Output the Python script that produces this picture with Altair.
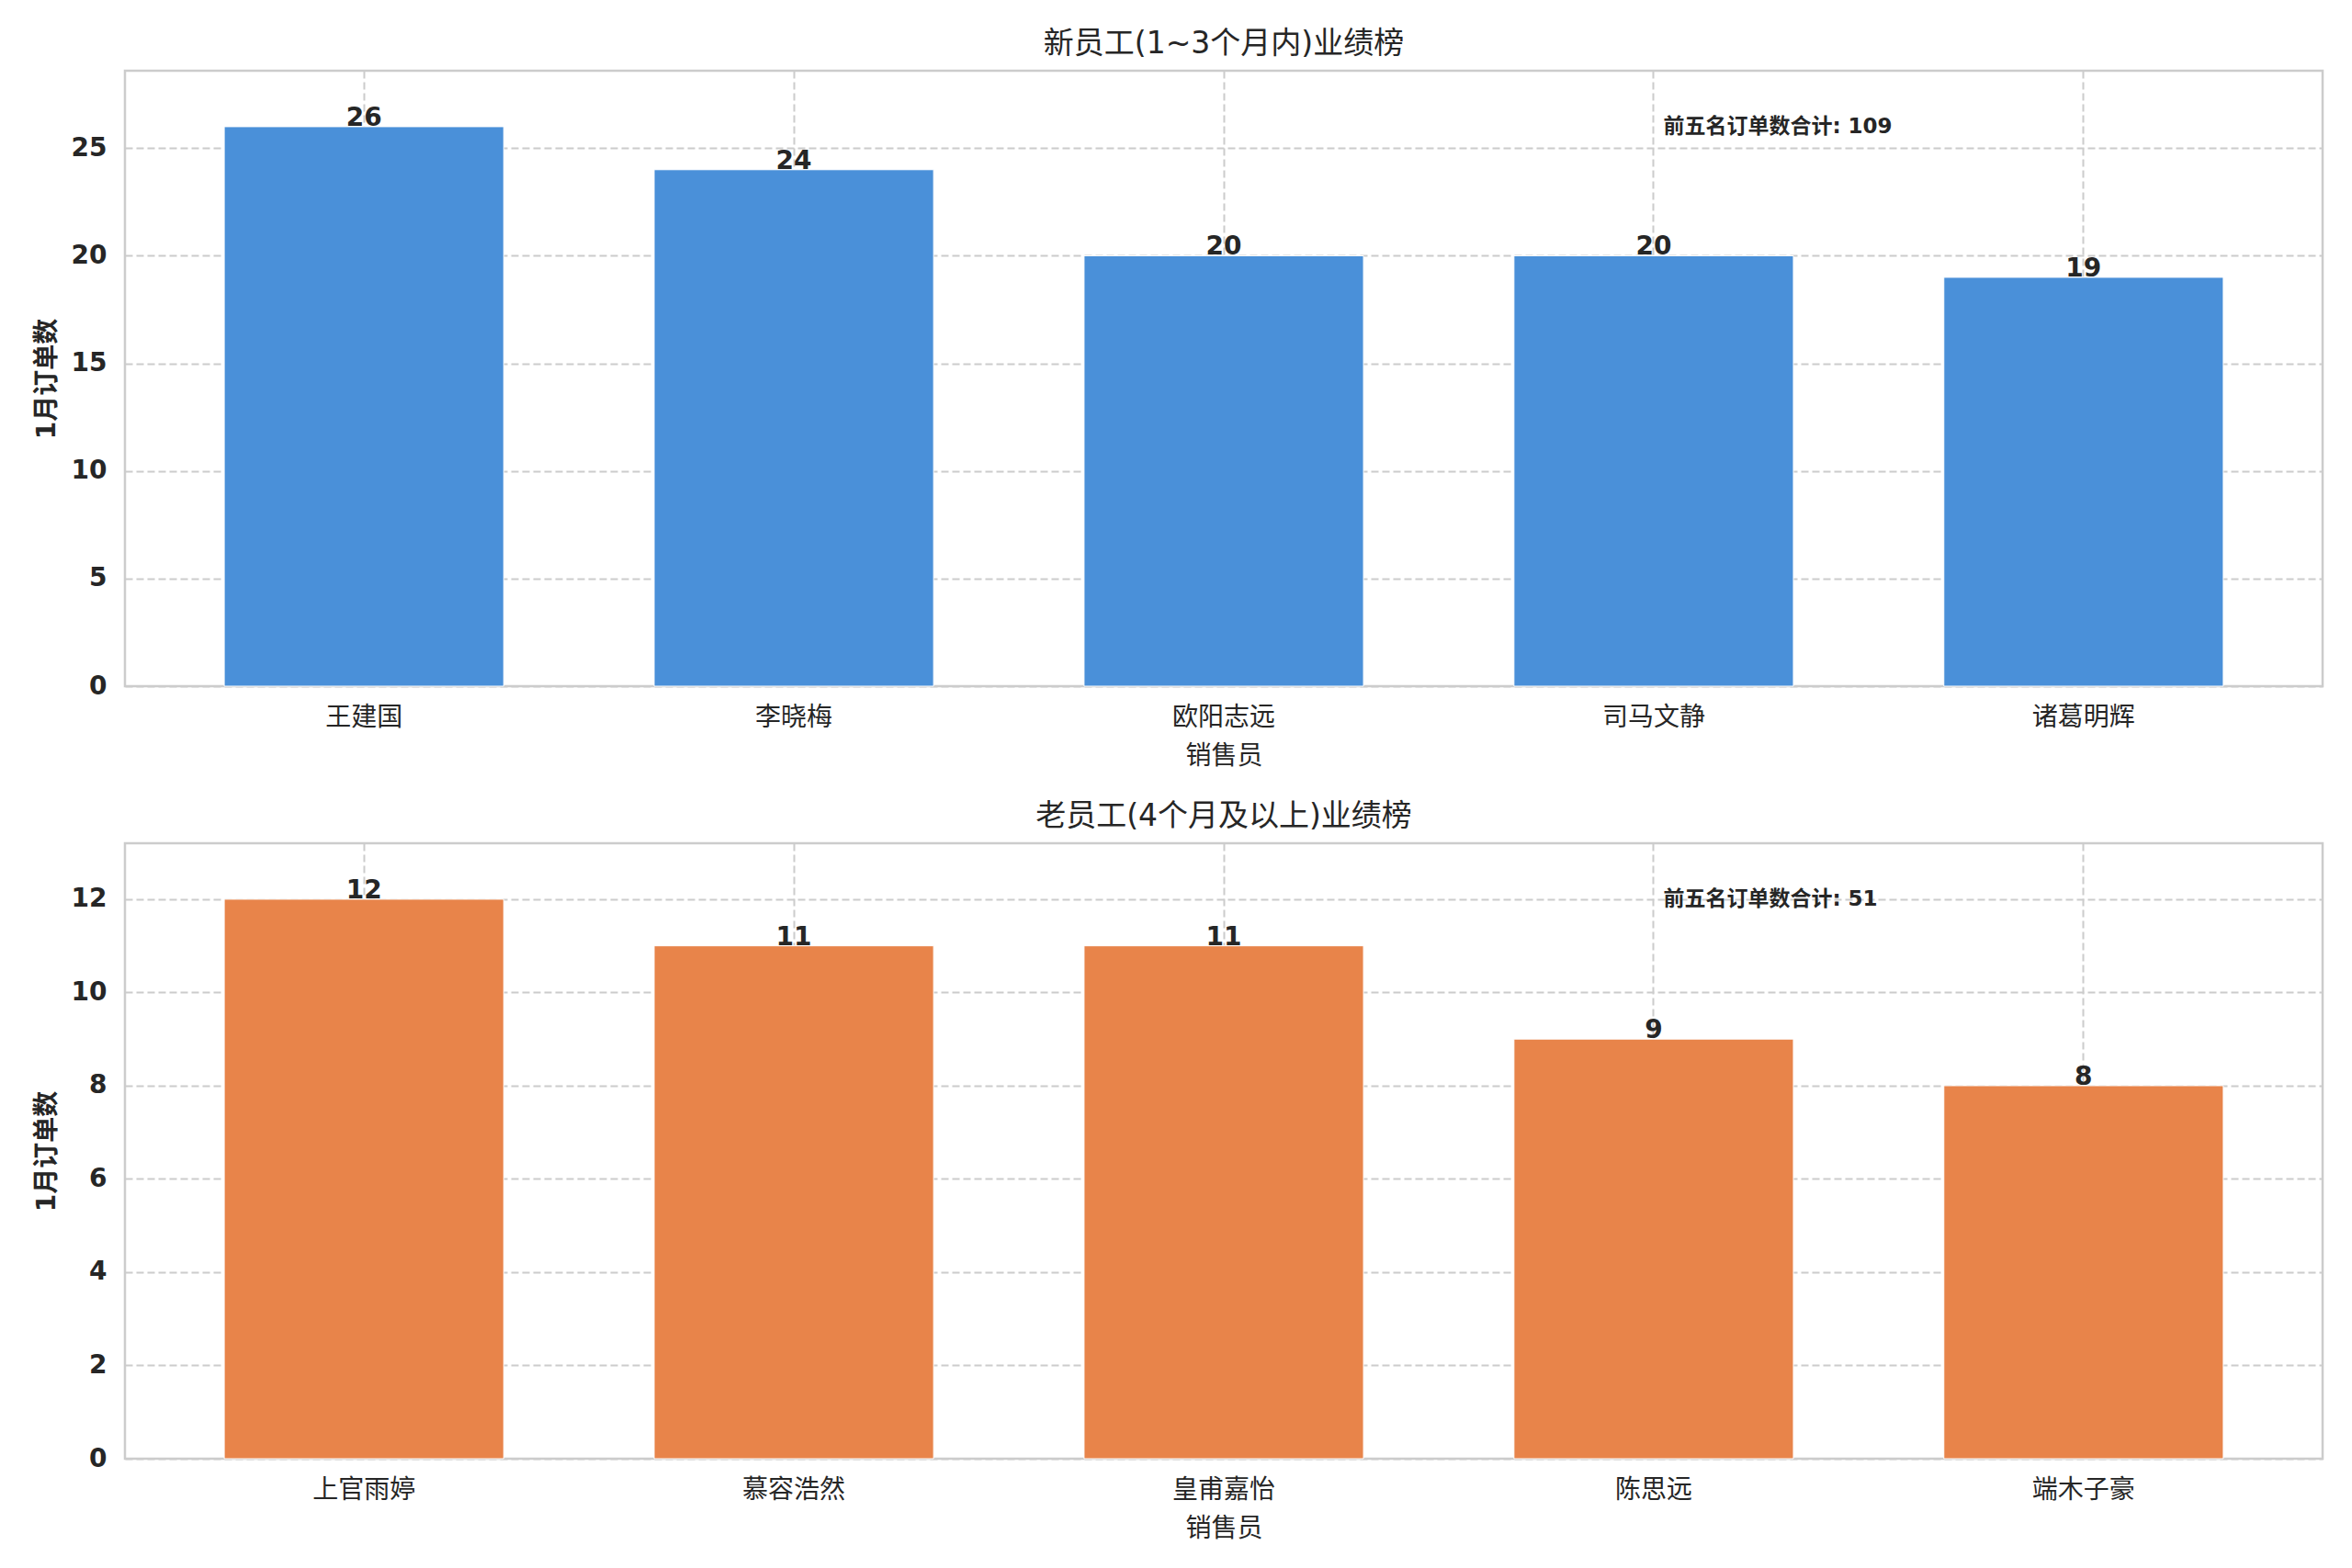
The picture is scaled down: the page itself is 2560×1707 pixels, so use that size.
import altair as alt
import pandas as pd

FONT = "DejaVu Sans, Noto Sans CJK SC, sans-serif"
TXT = "#262626"
GRID = "#cccccc"

# ---- data ----
top_names = ["王建国", "李晓梅", "欧阳志远", "司马文静", "诸葛明辉"]
top_values = [26, 24, 20, 20, 19]
bottom_names = ["上官雨婷", "慕容浩然", "皇甫嘉怡", "陈思远", "端木子豪"]
bottom_values = [12, 11, 11, 9, 8]

top_title = "新员工(1~3个月内)业绩榜"
bottom_title = "老员工(4个月及以上)业绩榜"
x_title = "销售员"
y_title = "1月订单数"
note_label = "前五名订单数合计"

top_ymax = 28.6
bottom_ymax = 13.2
top_ticks = [0, 5, 10, 15, 20, 25]
bottom_ticks = [0, 2, 4, 6, 8, 10, 12]

W = 2392
H = 670


def panel(names, values, color, ymax, ticks, title):
    df = pd.DataFrame({"name": names, "value": values})
    note = pd.DataFrame({"value": [max(values)],
                         "label": [f"{note_label}: {sum(values)}"]})
    x = alt.X("name:N", sort=None, title=x_title,
              scale=alt.Scale(paddingInner=0.35, paddingOuter=0.231),
              axis=alt.Axis(labelAngle=0, bandPosition=0.5, grid=True))
    y = alt.Y("value:Q", title=y_title,
              scale=alt.Scale(domain=[0, ymax], nice=False, zero=True),
              axis=alt.Axis(values=ticks, grid=True))
    bars = alt.Chart(df).mark_bar(color=color, stroke="white", strokeWidth=1).encode(x=x, y=y)
    labels = alt.Chart(df).mark_text(
        baseline="alphabetic", align="center", dy=-1,
        font=FONT, fontSize=28, fontWeight="bold", color=TXT
    ).encode(x=x, y=y, text="value:Q")
    ann = alt.Chart(note).mark_text(
        baseline="middle", align="left",
        font=FONT, fontSize=23, fontWeight="bold", color=TXT
    ).encode(x=alt.value(W * 0.7), y=alt.Y("value:Q"), text="label:N")
    return alt.layer(bars, labels, ann).properties(
        width=W, height=H,
        title=alt.TitleParams(title, font=FONT, fontSize=33, fontWeight="normal",
                              color=TXT, offset=12, anchor="middle"),
    )


top = panel(top_names, top_values, "#4a90d9", top_ymax, top_ticks, top_title)
bottom = panel(bottom_names, bottom_values, "#e8844a", bottom_ymax, bottom_ticks, bottom_title)

chart = alt.vconcat(top, bottom, spacing=32).properties(
    padding={"left": 27, "top": 22, "right": 20, "bottom": 10},
    background="white",
).configure_view(
    stroke=GRID, strokeWidth=2.5
).configure_axis(
    gridColor=GRID, gridDash=[8, 4], gridWidth=2,
    domain=False, ticks=False,
    labelFont=FONT, titleFont=FONT, labelColor=TXT, titleColor=TXT,
).configure_axisY(
    labelFontSize=28, labelFontWeight="bold", labelPadding=20,
    titleFontSize=28, titleFontWeight="bold", titlePadding=12,
).configure_axisX(
    labelFontSize=28, labelFontWeight="normal", labelPadding=20,
    titleFontSize=28, titleFontWeight="normal", titlePadding=14,
)

chart.save("out.html", embed_options={"renderer": "svg", "actions": False})
